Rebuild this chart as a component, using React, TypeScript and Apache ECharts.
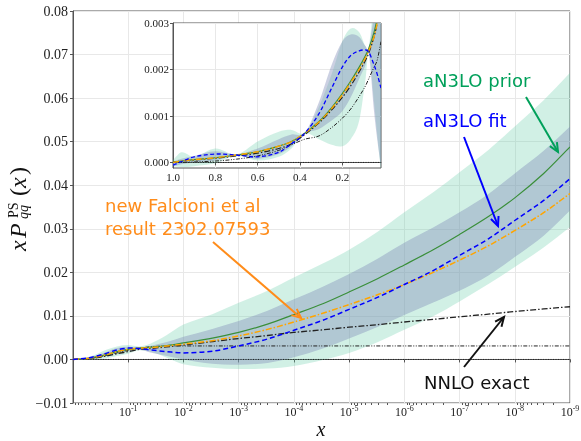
import { useEffect, useRef } from 'react';
import * as echarts from 'echarts';

// ---------- main panel data (x from 1 down to 1e-9) ----------
const xs = [1, 0.5, 0.25, 0.16, 0.1, 0.063, 0.04, 0.02, 0.01, 3e-3, 1e-3, 3e-4, 1e-4, 3e-5, 1e-5, 3e-6, 1e-6, 3e-7, 1e-7, 3e-8, 1e-8, 3e-9, 1e-9];
const priorCentral = [0, 0.0003, 0.0011, 0.0018, 0.0023, 0.0026, 0.0028, 0.0032, 0.0038, 0.0049, 0.0062, 0.0081, 0.0103, 0.0128, 0.0155, 0.0186, 0.0217, 0.0252, 0.0287, 0.0328, 0.0371, 0.0427, 0.0488];
const priorUpper = [0.0001, 0.0006, 0.0022, 0.003, 0.0033, 0.003, 0.0036, 0.0056, 0.008, 0.0104, 0.013, 0.0158, 0.0188, 0.022, 0.0252, 0.0294, 0.0338, 0.0384, 0.043, 0.0481, 0.0535, 0.0595, 0.0658];
const priorLower = [-0.0001, -0.0001, 0.0003, 0.0008, 0.0013, 0.0021, 0.0018, 0.0004, -0.0011, -0.0019, -0.0022, -0.0021, -0.0015, -0.0001, 0.0015, 0.004, 0.0068, 0.0099, 0.0133, 0.0173, 0.0212, 0.0257, 0.0304];
const fitCentral = [0, 0.0004, 0.0014, 0.0022, 0.0026, 0.0025, 0.0022, 0.0018, 0.0015, 0.0019, 0.0031, 0.0047, 0.0067, 0.009, 0.0115, 0.0143, 0.0172, 0.0204, 0.0239, 0.0277, 0.0319, 0.0365, 0.0415];
const fitUpper = [0.0001, 0.0004, 0.0017, 0.0026, 0.0029, 0.0027, 0.0031, 0.004, 0.0052, 0.007, 0.0088, 0.0112, 0.0138, 0.0167, 0.0196, 0.0232, 0.0268, 0.0303, 0.0338, 0.038, 0.0427, 0.0479, 0.0535];
const fitLower = [-0.0001, 0.0001, 0.0008, 0.0014, 0.002, 0.0022, 0.0016, 0.0008, 0.0, -0.001, -0.0012, -0.0008, 0.0005, 0.0025, 0.0048, 0.0075, 0.0102, 0.0131, 0.0158, 0.0193, 0.0235, 0.0284, 0.0342];
const falcioni = [0, 0.0003, 0.0011, 0.0018, 0.0023, 0.0026, 0.0027, 0.0031, 0.0035, 0.0043, 0.0054, 0.0069, 0.0086, 0.0106, 0.0126, 0.0149, 0.0172, 0.02, 0.0228, 0.0261, 0.0296, 0.0337, 0.0381];
const nnloExact = [0, 0.0002, 0.0008, 0.0013, 0.0018, 0.0023, 0.0025, 0.0029, 0.0033, 0.0041, 0.0048, 0.0055, 0.0062, 0.0068, 0.0074, 0.008, 0.0086, 0.0092, 0.0098, 0.0104, 0.011, 0.0116, 0.0121];
const nloExact = [0, 0.0002, 0.0009, 0.0015, 0.0021, 0.0026, 0.0029, 0.0031, 0.0031, 0.0031, 0.0031, 0.0031, 0.0031, 0.0031, 0.0031, 0.0031, 0.0031, 0.0031, 0.0031, 0.0031, 0.0031, 0.0031, 0.0031];
const loExact = [0, 0, 0, 0, 0, 0, 0, 0, 0, 0, 0, 0, 0, 0, 0, 0, 0, 0, 0, 0, 0, 0, 0];

// ---------- inset data (linear x from 1 down to ~0.017) ----------
const insetX = [1.0, 0.96, 0.9, 0.8, 0.7, 0.6, 0.5, 0.44, 0.377, 0.31, 0.25, 0.2, 0.16, 0.12, 0.09, 0.075, 0.05, 0.035, 0.017];
const inPrior = [0, 0.00003, 0.00006, 0.0001, 0.00016, 0.00023, 0.00035, 0.00045, 0.00063, 0.00088, 0.00118, 0.00148, 0.00175, 0.00205, 0.0023, 0.00245, 0.0028, 0.0031, 0.0036];
const inPriorUp = [0.00005, 0.00022, 0.00012, 0.0003, 0.00017, 0.00045, 0.00066, 0.0007, 0.00064, 0.0012, 0.0019, 0.0026, 0.00288, 0.0028, 0.0025, 0.00247, 0.0035, 0.004, 0.005];
const inPriorLo = [-0.00008, -0.0001, -0.00008, -0.00002, 0.00015, 0.00004, 0.00012, 0.0003, 0.00062, 0.0005, 0.00038, 0.00035, 0.0005, 0.0009, 0.0018, 0.00235, 0.0013, 0.0006, -0.0002];
const inFit = [-0.00006, 0.00002, 0.00012, 0.00018, 0.00016, 0.00012, 0.00022, 0.0004, 0.00063, 0.00105, 0.0016, 0.00205, 0.0023, 0.0024, 0.00242, 0.00238, 0.0021, 0.0019, 0.0016];
const inFitUp = [0.00002, 0.00008, 0.00014, 0.00024, 0.00017, 0.0003, 0.0005, 0.0006, 0.00064, 0.0013, 0.0021, 0.0026, 0.00275, 0.0027, 0.0025, 0.00246, 0.0032, 0.0038, 0.0045];
const inFitLo = [-0.00008, -0.00004, 0, 0.00004, 0.00015, 0.00008, 0.00018, 0.00035, 0.00062, 0.00072, 0.0009, 0.0011, 0.0014, 0.0018, 0.0021, 0.00235, 0.0011, 0.0005, -0.0001];
const inFalcioni = [0, 0.00003, 0.00006, 0.0001, 0.00016, 0.00023, 0.00035, 0.00045, 0.00063, 0.00087, 0.00116, 0.00145, 0.00172, 0.002, 0.00225, 0.0024, 0.0027, 0.003, 0.0035];
const inNnlo = [0, 0.00003, 0.00005, 0.00009, 0.00014, 0.0002, 0.0003, 0.0004, 0.0006, 0.00085, 0.00113, 0.0014, 0.00165, 0.00195, 0.0022, 0.00235, 0.0027, 0.003, 0.0035];
const inNlo = [0, 0, 0.00001, 0.00003, 0.00007, 0.00014, 0.00026, 0.00038, 0.0005, 0.00057, 0.00075, 0.00095, 0.00115, 0.00142, 0.00165, 0.0018, 0.00205, 0.0022, 0.0026];
const inLo = [0, 0, 0, 0, 0, 0, 0, 0, 0, 0, 0, 0, 0, 0, 0, 0, 0, 0, 0];

// ---------- ticks ----------
const insetXTicks = [1.0, 0.8, 0.6, 0.4, 0.2];
const insetYTicks = [0, 0.001, 0.002, 0.003];
const minorMantissas = [2, 3, 4, 5, 6, 7, 8, 9];

const SERIF = '"Liberation Serif", "DejaVu Serif", serif';
const SANS = '"DejaVu Sans", "Noto Sans", sans-serif';
const PRIOR_FILL = 'rgba(102,205,170,0.3)';
const FIT_FILL = 'rgba(131,142,185,0.42)';
const GREEN_LINE = '#3a8f3a';
const GREEN_TEXT = '#00a05a';
const ORANGE = '#ff8c1a';
const ORANGE_LINE = '#ffa500';
const BLUE = '#0000ff';
const AXIS = '#555';
const GRIDC = '#e8e8e8';

// smooth (cubic Hermite, tangent from neighbours) path through pixel points
function hermite(pts: number[][], first: string): string {
  const n = pts.length;
  const m = pts.map((_, i) => {
    const a = pts[Math.max(i - 1, 0)];
    const b = pts[Math.min(i + 1, n - 1)];
    const dx = b[0] - a[0];
    return dx === 0 ? 0 : (b[1] - a[1]) / dx;
  });
  let s = `${first}${pts[0][0]} ${pts[0][1]}`;
  for (let i = 0; i < n - 1; i++) {
    const [x1, y1] = pts[i];
    const [x2, y2] = pts[i + 1];
    const dx = x2 - x1;
    s += ` C${x1 + dx / 3} ${y1 + (m[i] * dx) / 3} ${x2 - dx / 3} ${y2 - (m[i + 1] * dx) / 3} ${x2} ${y2}`;
  }
  return s;
}

function band(x: number[], lo: number[], up: number[], color: string, xi: number, yi: number, z: number) {
  return {
    type: 'custom', xAxisIndex: xi, yAxisIndex: yi, data: [[x[0], lo[0]]], silent: true, clip: true, z,
    renderItem: (_p: any, api: any) => {
      const top = x.map((v, i) => api.coord([v, up[i]]));
      const bot = x.map((v, i) => api.coord([v, lo[i]])).reverse();
      const d = hermite(top, 'M') + ' ' + hermite(bot, 'L') + ' Z';
      return { type: 'path', shape: { pathData: d }, style: { fill: color, stroke: 'none' } };
    },
  };
}

function curve(x: number[], y: number[], color: string, width: number, dash: number[] | null, xi: number, yi: number, z: number) {
  return {
    type: 'custom', xAxisIndex: xi, yAxisIndex: yi, data: [[x[0], y[0]]], silent: true, clip: true, z,
    renderItem: (_p: any, api: any) => {
      const pts = x.map((v, i) => api.coord([v, y[i]]));
      const style: any = { fill: 'none', stroke: color, lineWidth: width };
      if (dash) style.lineDash = dash;
      return { type: 'path', shape: { pathData: hermite(pts, 'M') }, style };
    },
  };
}

function arrow(x1: number, y1: number, x2: number, y2: number, color: string, w = 2, head = 10) {
  const ang = Math.atan2(y2 - y1, x2 - x1);
  const a1 = ang + Math.PI - 0.42;
  const a2 = ang + Math.PI + 0.42;
  return [
    { type: 'line', z: 30, shape: { x1, y1, x2, y2 }, style: { stroke: color, lineWidth: w } },
    {
      type: 'polyline', z: 30,
      shape: { points: [[x2 + head * Math.cos(a1), y2 + head * Math.sin(a1)], [x2, y2], [x2 + head * Math.cos(a2), y2 + head * Math.sin(a2)]] },
      style: { stroke: color, lineWidth: w, fill: 'none' },
    },
  ];
}

function label(text: string, x: number, y: number, color: string, size = 18) {
  return {
    type: 'text', x, y, z: 30,
    style: { text, fill: color, font: `${size}px ${SANS}`, align: 'left', verticalAlign: 'middle' },
  };
}

function ytext(text: string, x: number, y: number, font: string) {
  return { type: 'text', x, y, style: { text, font, fill: '#111', align: 'left', verticalAlign: 'middle' } };
}

export default function App() {
  const ref = useRef<HTMLDivElement>(null);

  useEffect(() => {
    if (!ref.current) return;
    const chart = echarts.init(ref.current, null, { renderer: 'svg' });

    const minorTicks: number[] = [];
    for (let k = 0; k < 9; k++) {
      for (const m of minorMantissas) minorTicks.push(k + 1 - Math.log10(m));
    }

    const serifLabel = { fontFamily: SERIF, color: '#222' };
    const DASHDOT = [6, 2, 1.5, 2];
    const DASHDOTDOT = [4, 1.5, 1, 1.5, 1, 1.5];
    const DOTTED = [1, 1.5];

    const option: any = {
      animation: false,
      grid: [
        { left: 73, top: 11, right: 11, bottom: 38, show: true, borderColor: AXIS, borderWidth: 1, backgroundColor: 'transparent', z: 0, containLabel: false, outerBoundsMode: 'none' },
        { left: 173, top: 23, width: 208, height: 145, show: true, borderColor: AXIS, borderWidth: 1, backgroundColor: '#ffffff', z: 10, containLabel: false, outerBoundsMode: 'none' },
      ],
      xAxis: [
        {
          type: 'log', logBase: 10, gridIndex: 0, min: 1e-9, max: 1, inverse: true, splitNumber: 9, position: 'bottom', z: 1,
          axisLine: { show: true, lineStyle: { color: AXIS } },
          axisTick: { show: true, length: 3, lineStyle: { color: AXIS } },
          splitLine: { show: true, lineStyle: { color: GRIDC } },
          axisLabel: {
            margin: 1,
            formatter: (v: number) => {
              const n = Math.round(Math.log10(v));
              if (n === 0) return '';
              return `{b|10}{s|${n < 0 ? '-' : ''}${Math.abs(n)}}`;
            },
            rich: {
              b: { ...serifLabel, fontSize: 12 },
              s: { ...serifLabel, fontSize: 8, padding: [0, 0, 7, 0] },
            },
          },
        },
        {
          type: 'value', gridIndex: 0, min: 0, max: 9, position: 'bottom', z: 1,
          axisLine: { show: false }, axisLabel: { show: false }, splitLine: { show: false },
          axisTick: { show: true, length: 2, customValues: minorTicks, lineStyle: { color: AXIS } },
        },
        {
          type: 'value', gridIndex: 1, min: 0.017, max: 1, inverse: true, position: 'bottom', z: 11,
          axisLine: { show: true, lineStyle: { color: AXIS } },
          axisTick: { show: true, length: 3, customValues: insetXTicks, lineStyle: { color: AXIS } },
          splitLine: { show: true, lineStyle: { color: GRIDC } },
          axisLabel: { customValues: insetXTicks, margin: 3, ...serifLabel, fontSize: 11, formatter: (v: number) => v.toFixed(1) },
        },
      ],
      yAxis: [
        {
          type: 'value', gridIndex: 0, min: -0.01, max: 0.08, interval: 0.01, z: 1,
          axisLine: { show: true, lineStyle: { color: AXIS } },
          axisTick: { show: true, length: 3, lineStyle: { color: AXIS } },
          splitLine: { show: true, lineStyle: { color: GRIDC } },
          axisLabel: {
            margin: 5, ...serifLabel, fontSize: 14,
            formatter: (v: number) => (Math.abs(v) < 1e-9 ? '0.00' : v.toFixed(2).replace('-', '\u2212')),
          },
        },
        {
          type: 'value', gridIndex: 1, min: -0.00012, max: 0.003, z: 11,
          axisLine: { show: true, lineStyle: { color: AXIS } },
          axisTick: { show: true, length: 3, customValues: insetYTicks, lineStyle: { color: AXIS } },
          splitLine: { show: true, lineStyle: { color: GRIDC } },
          axisLabel: { customValues: insetYTicks, margin: 4, ...serifLabel, fontSize: 11, formatter: (v: number) => (Math.abs(v) < 1e-9 ? '0.000' : v.toFixed(3)) },
        },
      ],
      series: [
        band(xs, priorLower, priorUpper, PRIOR_FILL, 0, 0, 2),
        band(xs, fitLower, fitUpper, FIT_FILL, 0, 0, 2),
        curve(xs, loExact, '#222', 1, DOTTED, 0, 0, 3),
        curve(xs, nloExact, '#222', 1, DASHDOTDOT, 0, 0, 3),
        curve(xs, nnloExact, '#222', 1.3, DASHDOT, 0, 0, 3),
        curve(xs, priorCentral, GREEN_LINE, 1.2, null, 0, 0, 3),
        curve(xs, falcioni, ORANGE_LINE, 1.5, DASHDOT, 0, 0, 3),
        curve(xs, fitCentral, BLUE, 1.5, [5, 3], 0, 0, 3),

        band(insetX, inPriorLo, inPriorUp, PRIOR_FILL, 2, 1, 12),
        band(insetX, inFitLo, inFitUp, FIT_FILL, 2, 1, 12),
        curve(insetX, inLo, '#222', 1, DOTTED, 2, 1, 13),
        curve(insetX, inNlo, '#222', 1, DASHDOTDOT, 2, 1, 13),
        curve(insetX, inNnlo, '#222', 1.2, DASHDOT, 2, 1, 13),
        curve(insetX, inPrior, GREEN_LINE, 1.2, null, 2, 1, 13),
        curve(insetX, inFalcioni, ORANGE_LINE, 1.4, DASHDOT, 2, 1, 13),
        curve(insetX, inFit, BLUE, 1.3, [4, 2.5], 2, 1, 13),
      ],
      graphic: [
        {
          type: 'group', x: 18, y: 251, rotation: Math.PI / 2, z: 30,
          children: [
            ytext('x', 0, 0, `italic 24px ${SERIF}`),
            ytext('P', 13, 0, `italic 24px ${SERIF}`),
            ytext('PS', 33, -5, `14px ${SERIF}`),
            ytext('qq', 32, 5, `italic 14px ${SERIF}`),
            ytext('(', 55, 0, `24px ${SERIF}`),
            ytext('x', 63, 0, `italic 24px ${SERIF}`),
            ytext(')', 76, 0, `24px ${SERIF}`),
          ],
        },
        {
          type: 'text', x: 321, y: 429, z: 30,
          style: { text: 'x', font: `italic 20px ${SERIF}`, fill: '#111', align: 'center', verticalAlign: 'middle' },
        },
        label('aN3LO prior', 423, 80, GREEN_TEXT),
        label('aN3LO fit', 423, 120, BLUE),
        label('new Falcioni et al', 105, 205, ORANGE),
        label('result 2302.07593', 105, 228, ORANGE),
        label('NNLO exact', 424, 382, '#111'),
        ...arrow(526, 97, 558, 152, GREEN_TEXT),
        ...arrow(464, 137, 498, 226, BLUE),
        ...arrow(213, 242, 301, 318, ORANGE),
        ...arrow(464, 367, 504, 317, '#111'),
      ],
    };

    chart.setOption(option);
    return () => chart.dispose();
  }, []);

  return <div ref={ref} style={{ position: 'fixed', left: 0, top: 0, width: 581, height: 441 }} />;
}
